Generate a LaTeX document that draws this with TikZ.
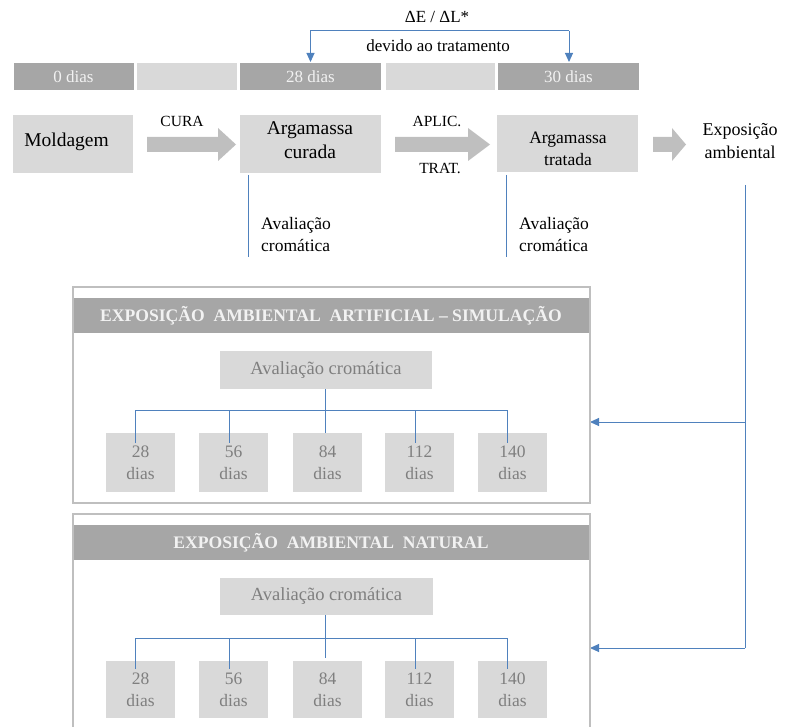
\documentclass[tikz,border=0pt]{standalone}
\usepackage{fontspec}
\setmainfont{Liberation Serif}
\usetikzlibrary{arrows.meta}
\definecolor{lgray}{HTML}{D9D9D9}
\definecolor{dgray}{HTML}{A6A6A6}
\definecolor{agray}{HTML}{BFBFBF}
\definecolor{tgray}{HTML}{7F7F7F}
\definecolor{wtext}{HTML}{F2F2F2}
\definecolor{blueA}{HTML}{4F81BD}
\tikzset{
  seg/.style={rectangle, inner sep=0pt, minimum height=27pt, text=wtext, font=\fontsize{17}{20}\selectfont},
  darkseg/.style={seg, fill=dgray},
  lightseg/.style={seg, fill=lgray},
  gbox/.style={rectangle, fill=lgray, inner sep=0pt},
  plain/.style={inner sep=0pt, align=center},
  conn/.style={draw=blueA, line width=1pt},
  arr/.style={conn, -{Triangle[length=9pt,width=8pt]}},
  blockarrow/.style={fill=agray},
  frame/.style={draw=agray, line width=2pt},
  header/.style={rectangle, fill=dgray, inner sep=0pt, minimum width=515pt, minimum height=35pt},
  headtext/.style={inner sep=0pt, text=wtext, font=\fontsize{17.6}{20}\selectfont\bfseries},
  aval/.style={gbox, text=tgray, font=\fontsize{18.5}{20}\selectfont},
  day/.style={gbox, minimum width=69pt, text=tgray, align=center, font=\fontsize{17.5}{22}\selectfont},
}
\begin{document}
\begin{tikzpicture}[x=1pt,y=-1pt]
\useasboundingbox (0,0) rectangle (789,727);
\clip (0,0) rectangle (789,727);

% ---- timeline bar
\node[darkseg, minimum width=120pt] (b0) at (73.5,77) {0 dias};
\node[lightseg, minimum width=100pt] (bl1) at (186.5,77) {};
\node[darkseg, minimum width=141pt] (b28) at (310.5,77) {28 dias};
\node[lightseg, minimum width=109pt] (bl2) at (440.5,77) {};
\node[darkseg, minimum width=141pt] (b30) at (568.5,77) {30 dias};

% ---- top bracket
\coordinate (tl) at (310.5,31);
\coordinate (tr) at (569,31);
\coordinate (tlt) at (310.5,62);
\coordinate (trt) at (569,62);
\draw[arr] (tr) -- (trt);
\draw[arr] (tr) -- (tl) -- (tlt);
\node[plain, font=\fontsize{17}{20}\selectfont] (dE) at (437,17) {ΔE / ΔL*};
\node[plain, font=\fontsize{17}{20}\selectfont] (dev) at (438,46) {devido ao tratamento};

% ---- process row
\node[gbox, minimum width=120pt, minimum height=58pt] (mold) at (73,144) {};
\node[plain, font=\fontsize{19.5}{24}\selectfont] (moldt) at (66.5,142) {Moldagem};
\node[gbox, minimum width=141pt, minimum height=58pt] (cur) at (310.5,144) {};
\node[plain, font=\fontsize{19.5}{24}\selectfont] (curt) at (310,140) {Argamassa\\curada};
\node[gbox, minimum width=141pt, minimum height=57pt] (trat) at (567.5,143.5) {};
\node[plain, font=\fontsize{17.5}{22}\selectfont] (tratt) at (568,149) {Argamassa\\tratada};
\node[plain, font=\fontsize{18}{23}\selectfont] (expo) at (740,141.5) {Exposição\\ambiental};

\fill[blockarrow] (147,137) -- (218,137) -- (218,128) -- (236,144.5) -- (218,161) -- (218,152) -- (147,152) -- cycle;
\fill[blockarrow] (395,137) -- (468,137) -- (468,128) -- (490,144.5) -- (468,161) -- (468,152) -- (395,152) -- cycle;
\fill[blockarrow] (653,137) -- (672,137) -- (672,128) -- (686,144.5) -- (672,161) -- (672,152) -- (653,152) -- cycle;
\node[plain, font=\fontsize{15.5}{18}\selectfont] (cura) at (182,121) {CURA};
\node[plain, font=\fontsize{15.5}{18}\selectfont] (aplic) at (437,121) {APLIC.};
\node[plain, font=\fontsize{15.5}{18}\selectfont] (tratl) at (440,168) {TRAT.};

% ---- evaluation lines
\coordinate (v1a) at (248,175); \coordinate (v1b) at (248,257);
\coordinate (v2a) at (506,175); \coordinate (v2b) at (506,257);
\draw[conn] (v1a) -- (v1b);
\draw[conn] (v2a) -- (v2b);
\node[plain, align=left, anchor=west, font=\fontsize{17.5}{22}\selectfont] (av1) at (261,235) {Avaliação\\cromática};
\node[plain, align=left, anchor=west, font=\fontsize{17.5}{22}\selectfont] (av2) at (519,235) {Avaliação\\cromática};

% ---- exposure connector
\coordinate (ea) at (745,185);
\coordinate (eb) at (745,422);
\coordinate (ec) at (745,648);
\coordinate (f1r) at (590,422);
\coordinate (f2r) at (590,648);
\draw[conn] (ea) -- (ec);
\draw[arr] (eb) -- (f1r);
\draw[arr] (ec) -- (f2r);

% ---- frame 1
\draw[frame] (73,287) rectangle (590,503);
\node[header] (h1) at (331.5,315.5) {};
\node[headtext] (h1t) at (331,316) {EXPOSIÇÃO\ \ AMBIENTAL\ \ ARTIFICIAL – SIMULAÇÃO};
\node[aval, minimum width=212pt, minimum height=38pt] (a1) at (326,370) {Avaliação cromática};
\node[day, minimum height=59pt] (d1a) at (140.5,462.5) {28\\dias};
\node[day, minimum height=59pt] (d1b) at (233.5,462.5) {56\\dias};
\node[day, minimum height=59pt] (d1c) at (327.5,462.5) {84\\dias};
\node[day, minimum height=59pt] (d1d) at (419.5,462.5) {112\\dias};
\node[day, minimum height=59pt] (d1e) at (512.5,462.5) {140\\dias};
\draw[conn] (a1.south -| 325,0) -- (325,433);
\draw[conn] (135,443) -- (135,410) -- (507,410) -- (507,443);
\draw[conn] (229,410) -- (229,443);
\draw[conn] (415,410) -- (415,443);

% ---- frame 2
\draw[frame] (73,514) rectangle (590,760);
\node[header] (h2) at (331.5,542) {};
\node[headtext] (h2t) at (331,543) {EXPOSIÇÃO\ \ AMBIENTAL\ \ NATURAL};
\node[aval, minimum width=213pt, minimum height=37pt] (a2) at (326.5,596.5) {Avaliação cromática};
\node[day, minimum height=57pt] (d2a) at (140.5,689.5) {28\\dias};
\node[day, minimum height=57pt] (d2b) at (233.5,689.5) {56\\dias};
\node[day, minimum height=57pt] (d2c) at (327.5,689.5) {84\\dias};
\node[day, minimum height=57pt] (d2d) at (419.5,689.5) {112\\dias};
\node[day, minimum height=57pt] (d2e) at (512.5,689.5) {140\\dias};
\draw[conn] (a2.south -| 325,0) -- (325,658);
\draw[conn] (135,669) -- (135,638) -- (507,638) -- (507,669);
\draw[conn] (229,638) -- (229,669);
\draw[conn] (415,638) -- (415,669);
\end{tikzpicture}
\end{document}
